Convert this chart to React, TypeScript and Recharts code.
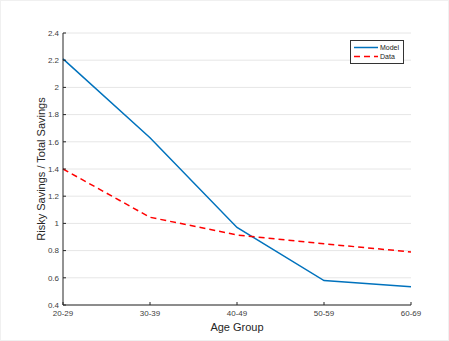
import React from "react"
import { LineChart, Line, XAxis, YAxis, CartesianGrid } from "recharts"

const ageGroups = ["20-29", "30-39", "40-49", "50-59", "60-69"]
const modelValues = [2.21, 1.63, 0.97, 0.58, 0.535]
const dataValues = [1.4, 1.045, 0.915, 0.85, 0.79]
const yTicks = [0.4, 0.6, 0.8, 1, 1.2, 1.4, 1.6, 1.8, 2, 2.2, 2.4]

const rows = ageGroups.map((g, i) => ({ group: g, Model: modelValues[i], Data: dataValues[i] }))

const FONT = "'Liberation Sans', Arial, sans-serif"

const fmt = (v: number) => String(Number(v.toFixed(1)))

function LegendBox() {
  return (
    <div
      style={{
        position: "absolute",
        left: 349,
        top: 39,
        border: "1px solid #333",
        background: "#fff",
        width: 52,
        padding: "2px 0",
        fontFamily: FONT,
        fontSize: 7,
        color: "#222",
        lineHeight: "9px",
      }}
    >
      <div style={{ display: "flex", alignItems: "center" }}>
        <svg width={28} height={9}>
          <line x1={3} y1={4.5} x2={27} y2={4.5} stroke="#0072BD" strokeWidth={1.5} />
        </svg>
        <span style={{ marginLeft: 1 }}>Model</span>
      </div>
      <div style={{ display: "flex", alignItems: "center" }}>
        <svg width={28} height={9}>
          <line x1={3} y1={4.5} x2={27} y2={4.5} stroke="#FF0000" strokeWidth={1.5} strokeDasharray="6 4" />
        </svg>
        <span style={{ marginLeft: 1 }}>Data</span>
      </div>
    </div>
  )
}

export default function App() {
  return (
    <div
      style={{
        position: "absolute",
        left: 0,
        top: 0,
        width: 449,
        height: 341,
        background: "#fff",
        boxSizing: "border-box",
        border: "1px solid #f0f0f0",
      }}
    >
      <LineChart
        width={449}
        height={341}
        data={rows}
        margin={{ top: 33, right: 38, left: 0, bottom: 0 }}
        style={{ fontFamily: FONT, position: "absolute", left: -1, top: -1 }}
      >
        <CartesianGrid vertical={false} stroke="#e6e6e6" strokeWidth={1} />
        <XAxis
          dataKey="group"
          height={36}
          stroke="#262626"
          tick={{ fontSize: 8, fill: "#404040" }}
          tickSize={-3}
          tickMargin={8}
          interval={0}
          label={{ value: "Age Group", position: "insideBottom", offset: 10, fontSize: 11, fill: "#262626" }}
        />
        <XAxis
          xAxisId="top"
          dataKey="group"
          orientation="top"
          height={0}
          stroke="#262626"
          tick={false}
          tickSize={-3}
        />
        <YAxis
          domain={[0.4, 2.4]}
          ticks={yTicks}
          width={63}
          stroke="#262626"
          tickFormatter={fmt}
          tick={{ fontSize: 8, fill: "#404040" }}
          tickSize={-3}
          tickMargin={7}
          allowDataOverflow
          label={{
            value: "Risky Savings / Total Savings",
            angle: -90,
            position: "insideLeft",
            offset: 41,
            style: { textAnchor: "middle" },
            fontSize: 11,
            fill: "#262626",
          }}
        />
        <YAxis
          yAxisId="right"
          orientation="right"
          domain={[0.4, 2.4]}
          ticks={yTicks}
          width={0}
          stroke="#262626"
          tick={false}
          tickSize={-3}
        />
        <Line
          type="linear"
          dataKey="Model"
          stroke="#0072BD"
          strokeWidth={1.5}
          dot={false}
          isAnimationActive={false}
        />
        <Line
          type="linear"
          dataKey="Data"
          stroke="#FF0000"
          strokeWidth={1.5}
          strokeDasharray="6 4"
          dot={false}
          isAnimationActive={false}
        />
      </LineChart>
      <LegendBox />
    </div>
  )
}
